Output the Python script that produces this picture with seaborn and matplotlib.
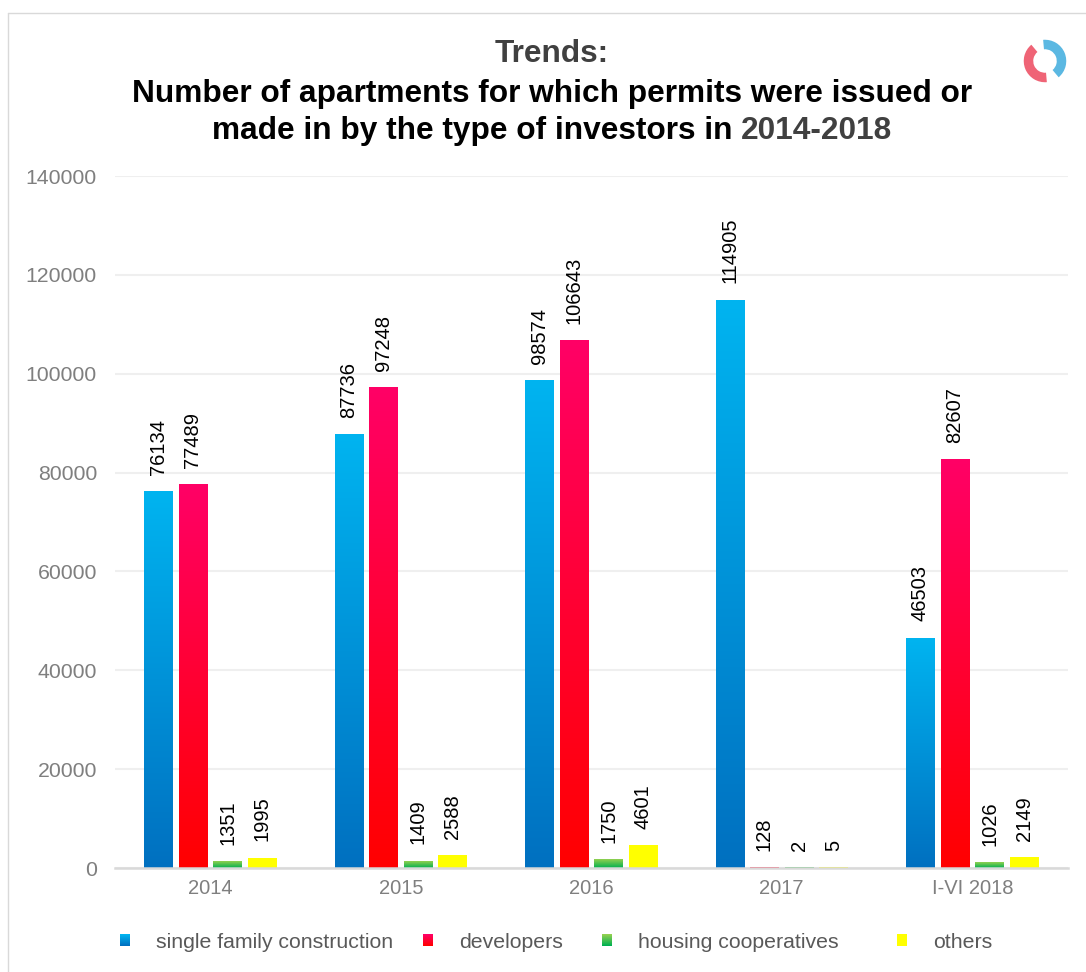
import numpy as np
import pandas as pd
import matplotlib
matplotlib.use("Agg")
import matplotlib.pyplot as plt
import seaborn as sns
from matplotlib.patches import Rectangle, Wedge
from matplotlib.legend_handler import HandlerBase
from matplotlib.colors import to_rgb

# ---- data ----
periods = ["2014", "2015", "2016", "2017", "I-VI 2018"]
investor_types = ["single family construction", "developers", "housing cooperatives", "others"]
single_family = [76134, 87736, 98574, 114905, 46503]
developers = [77489, 97248, 106643, 128, 82607]
cooperatives = [1351, 1409, 1750, 2, 1026]
others = [1995, 2588, 4601, 5, 2149]

# gradient colours (top, bottom) per series
grad_colors = {
    "single family construction": ("#00B4F0", "#0070C0"),
    "developers": ("#FF0066", "#FF0000"),
    "housing cooperatives": ("#92D050", "#00B050"),
    "others": ("#FFFF00", "#FFFF00"),
}

rows = []
for name, vals in zip(investor_types, [single_family, developers, cooperatives, others]):
    for p, v in zip(periods, vals):
        rows.append({"period": p, "type": name, "value": v})
df = pd.DataFrame(rows)

sns.set_theme(style="white")
plt.rcParams["font.family"] = ["Liberation Sans", "DejaVu Sans"]

W, H = 1086, 972
fig = plt.figure(figsize=(W / 100, H / 100), dpi=100)
ax = fig.add_axes([115 / W, 1 - 868 / H, 952.5 / W, (868 - 176) / H])

palette = {k: v[0] for k, v in grad_colors.items()}
sns.barplot(data=df, x="period", y="value", hue="type", hue_order=investor_types,
            order=periods, palette=palette, width=0.725, gap=0.17, legend=False,
            ax=ax, zorder=3)


def gradient_img(top, bottom, n=256):
    t = np.linspace(0, 1, n)[:, None]
    c1, c2 = np.array(to_rgb(top)), np.array(to_rgb(bottom))
    return (c1[None, None, :] * (1 - t[..., None]) + c2[None, None, :] * t[..., None])


for cont, name in zip(ax.containers, investor_types):
    top, bottom = grad_colors[name]
    img = gradient_img(top, bottom)
    for bar in cont:
        x0, y0 = bar.get_x(), bar.get_y()
        w, h = bar.get_width(), bar.get_height()
        if h <= 0:
            continue
        ax.imshow(img, extent=[x0, x0 + w, y0, y0 + h], aspect="auto",
                  origin="upper", zorder=3, interpolation="bilinear")
        bar.set_facecolor("none")
        bar.set_edgecolor("none")
    ax.bar_label(cont, labels=[f"{int(v)}" for v in cont.datavalues], rotation=90,
                 padding=12, fontsize=14.5, color="#000000")

ax.set_xlim(-0.5, 4.5)
ax.set_ylim(0, 140000)
ax.set_yticks(np.arange(0, 140001, 20000))
ax.yaxis.grid(True, color="#EFEFEF", linewidth=1.5, zorder=0)
ax.set_axisbelow(True)
for s in ["left", "right", "top"]:
    ax.spines[s].set_visible(False)
ax.spines["bottom"].set_color("#D9D9D9")
ax.spines["bottom"].set_linewidth(1.8)
ax.spines["bottom"].set_zorder(4)
ax.tick_params(axis="y", length=0, pad=13, labelsize=15.3, labelcolor="#7F7F7F")
ax.tick_params(axis="x", length=0, pad=8, labelsize=14.5, labelcolor="#7F7F7F")
ax.set_xlabel("")
ax.set_ylabel("")


# legend with gradient squares
class GradientHandler(HandlerBase):
    def __init__(self, top, bottom, **kw):
        super().__init__(**kw)
        self.top, self.bottom = top, bottom

    def create_artists(self, legend, orig_handle, xdescent, ydescent, width, height, fontsize, trans):
        n = 12
        w = 7.5
        h = 8.2
        x0 = -xdescent + (width - w) / 2
        y0 = -ydescent + (height - h) / 2
        arts = []
        c1, c2 = np.array(to_rgb(self.top)), np.array(to_rgb(self.bottom))
        for i in range(n):
            t = i / (n - 1)
            col = c2 * (1 - t) + c1 * t
            r = Rectangle((x0, y0 + h * i / n), w, h / n + 0.2, facecolor=col,
                          edgecolor="none", transform=trans)
            arts.append(r)
        return arts


leg_fs = 15.3
leg_fs_px = leg_fs * 100 / 72
marker_centers = [125, 428, 607, 902]
for name, mx in zip(investor_types, marker_centers):
    hd = Rectangle((0, 0), 1, 1)
    x_left = mx - leg_fs_px * 0.5
    fig.legend([hd], [name], handler_map={hd: GradientHandler(*grad_colors[name])},
               loc="center left", bbox_to_anchor=(x_left / W, 1 - 942 / H),
               frameon=False, fontsize=leg_fs, labelcolor="#595959",
               handlelength=1.0, handletextpad=0.95, borderaxespad=0, borderpad=0)

# title
TFS = 22.8
XC = 552 / W
fig.text(XC, 1 - 62 / H, "Trends:", ha="center", va="baseline", fontsize=TFS,
         fontweight="bold", color="#404040")
fig.text(XC, 1 - 102 / H, "Number of apartments for which permits were issued or",
         ha="center", va="baseline", fontsize=TFS, fontweight="bold", color="#000000")
line3a = "made in by the type of investors in "
line3b = "2014-2018"
renderer = fig.canvas.get_renderer()
tmp = fig.text(XC, 1 - 139 / H, line3a + line3b, ha="center", va="baseline",
               fontsize=TFS, fontweight="bold")
bb = tmp.get_window_extent(renderer=renderer)
tmp.remove()
fig.text(bb.x0 / W, 1 - 139 / H, line3a, ha="left", va="baseline",
         fontsize=TFS, fontweight="bold", color="#000000")
fig.text(bb.x1 / W, 1 - 139 / H, line3b, ha="right", va="baseline",
         fontsize=TFS, fontweight="bold", color="#404040")

# frame lines
fig.add_artist(plt.Line2D([8 / W, 8 / W], [0, 1 - 13 / H], color="#D9D9D9", lw=1,
                          transform=fig.transFigure))
fig.add_artist(plt.Line2D([8 / W, 1], [1 - 13 / H, 1 - 13 / H], color="#D9D9D9", lw=1,
                          transform=fig.transFigure))

# small logo (circular arrows)
lax = fig.add_axes([1020 / W, 1 - 86 / H, 50 / W, 50 / H])
lax.set_xlim(-1, 1)
lax.set_ylim(-1, 1)
lax.set_aspect("equal")
lax.axis("off")
lax.add_patch(Wedge((0, 0), 0.85, -50, 95, width=0.38, facecolor="#5BB8E2", edgecolor="none"))
lax.add_patch(Wedge((0, 0), 0.85, 130, 275, width=0.38, facecolor="#EF6476", edgecolor="none"))

fig.savefig("out.png", dpi=100)
